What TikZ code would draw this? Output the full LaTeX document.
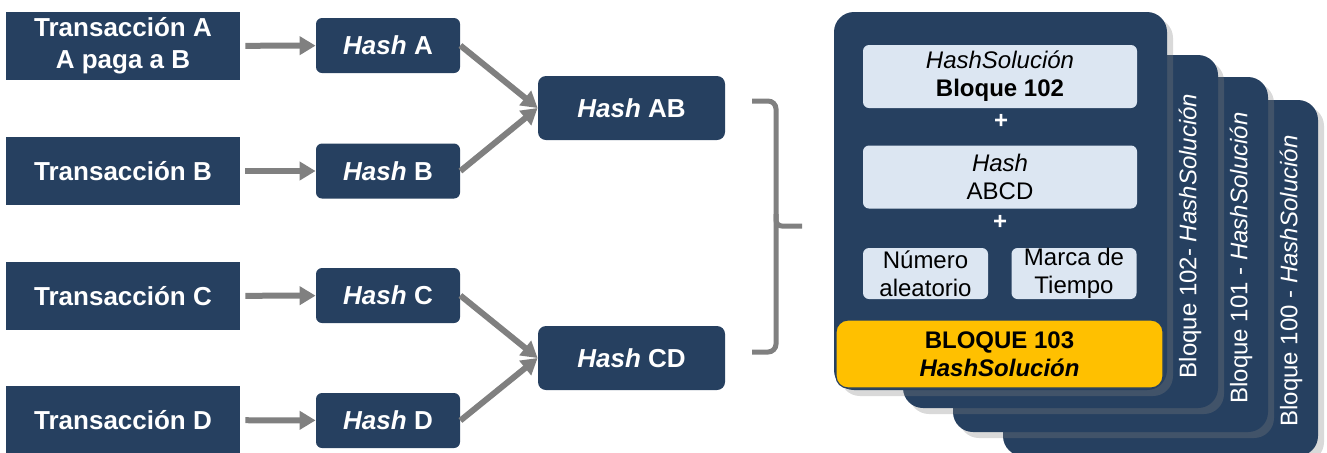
\documentclass[tikz,border=0pt]{standalone}
\usepackage{fontspec}
\setmainfont{Liberation Sans}
\usetikzlibrary{arrows.meta}
\usetikzlibrary{shadows}

\definecolor{navy}{HTML}{264060}
\definecolor{paleblue}{HTML}{DCE6F2}
\definecolor{gold}{HTML}{FFC000}
\definecolor{arrowgray}{HTML}{808080}

\tikzset{
	txbox/.style={fill=navy, text=white, align=center, inner sep=0pt,
		font=\fontsize{13}{16}\selectfont\bfseries,
		minimum width=117pt, minimum height=34pt},
	hashbox/.style={txbox, rounded corners=3pt, minimum width=72pt, minimum height=27.5pt},
	rootbox/.style={txbox, rounded corners=4pt, minimum width=93.5pt, minimum height=32pt},
	arr/.style={draw=arrowgray, line width=3pt, -{Triangle[length=8pt,width=9pt]}},
	card/.style={fill=navy, rounded corners=10pt, inner sep=0pt,
		drop shadow={opacity=0.3, shadow xshift=3pt, shadow yshift=-3pt},
		minimum width=157.5pt, minimum height=177pt},
	cardlabel/.style={rotate=90, text=white, font=\fontsize{12}{14}\selectfont},
	field/.style={fill=paleblue, rounded corners=3pt, align=center, inner sep=0pt,
		font=\fontsize{12}{14}\selectfont, minimum width=137pt, minimum height=31.5pt},
	plus/.style={text=white, font=\fontsize{12}{14}\selectfont\bfseries}
}

\begin{document}
\begin{tikzpicture}[x=0.5pt, y=-0.5pt]
	\useasboundingbox (0, 0) rectangle (1327, 452);

	\node[txbox] (txA) at (123, 46){Transacción A\\A paga a B};
	\node[txbox] (txB) at (123, 171){Transacción B};
	\node[txbox] (txC) at (123, 296){Transacción C};
	\node[txbox] (txD) at (123, 420){Transacción D};

	\node[hashbox] (hashA) at (388, 45.5){\textit{Hash} A};
	\node[hashbox] (hashB) at (388, 171){\textit{Hash} B};
	\node[hashbox] (hashC) at (388, 295.5){\textit{Hash} C};
	\node[hashbox] (hashD) at (388, 420.5){\textit{Hash} D};

	\node[rootbox] (hashAB) at (631.5, 108){\textit{Hash} AB};
	\node[rootbox] (hashCD) at (631.5, 358){\textit{Hash} CD};

	\foreach \t in {A, B, C, D}
		\draw[arr, shorten <=2.5pt] (tx\t) -- (hash\t);

	\draw[arr] (hashA.east) -- (hashAB.west);
	\draw[arr] (hashB.east) -- (hashAB.west);
	\draw[arr] (hashC.east) -- (hashCD.west);
	\draw[arr] (hashD.east) -- (hashCD.west);

	\draw[arrowgray, line width=2.5pt, rounded corners=4pt]
		(752, 101) -- (776, 101) -- (776, 226) -- (776, 352) -- (752, 352);
	\draw[arrowgray, line width=2.5pt, rounded corners=3pt]
		(776, 214) -- (776, 226) -- (802, 226);

	\node[card, minimum height=178pt] (card100) at (1160.5, 278){};
	\node[card, minimum height=177.5pt] (card101) at (1110.5, 254.5){};
	\node[card, minimum height=176.5pt] (card102) at (1060.5, 231.5){};
	\node[card, minimum width=166.5pt, minimum height=189pt] (card103) at (1000.5, 201){};

	\node[cardlabel] (lbl102) at (1190, 236){Bloque 102- \textit{HashSolución}};
	\node[cardlabel] (lbl101) at (1241, 258){Bloque 101 - \textit{HashSolución}};
	\node[cardlabel] (lbl100) at (1291, 281){Bloque 100 - \textit{HashSolución}};

	\node[field] (prevhash) at (1000, 76.5){\textit{HashSolución}\\\textbf{Bloque 102}};
	\node[plus] (plus1) at (1001, 121){+};
	\node[field] (root) at (1000, 177){\textit{Hash}\\ABCD};
	\node[plus] (plus2) at (1000, 222){+};
	\node[field, minimum width=62.5pt, minimum height=25.5pt] (nonce) at (925.5, 273.5){Número\\aleatorio};
	\node[field, minimum width=62.5pt, minimum height=25.5pt] (stamp) at (1074, 273.5){Marca de\\Tiempo};

	\node[field, fill=gold, draw=navy, line width=0.6pt, rounded corners=6pt,
		minimum width=163.5pt, minimum height=34pt, font=\fontsize{12}{14}\selectfont\bfseries]
		(block103) at (999.5, 354){BLOQUE 103\\\textit{HashSolución}};
\end{tikzpicture}
\end{document}
